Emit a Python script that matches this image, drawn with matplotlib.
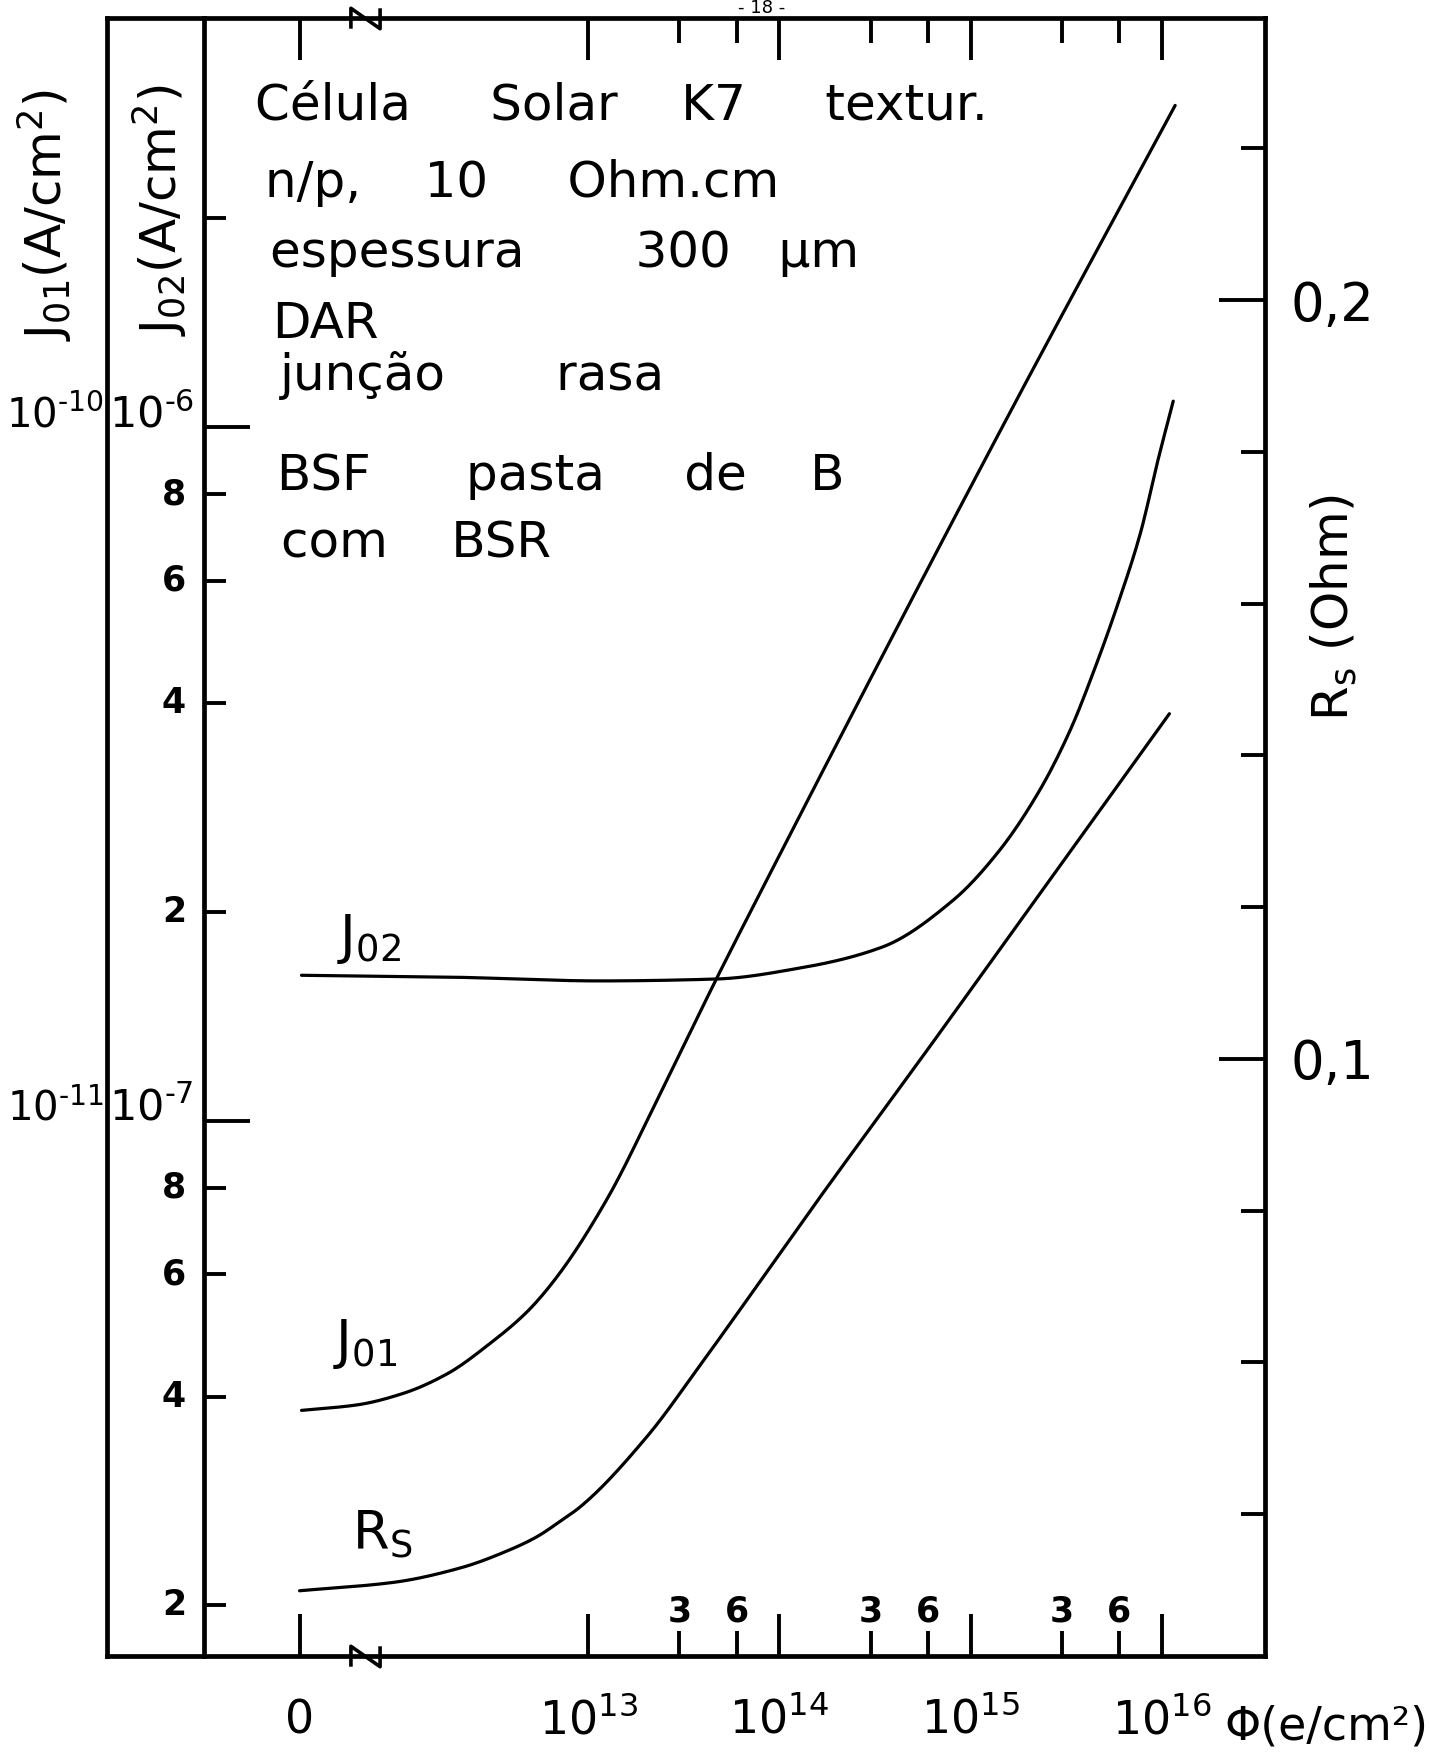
import numpy as np
import matplotlib
matplotlib.use("Agg")
import matplotlib.pyplot as plt
from matplotlib import transforms
from matplotlib.path import Path
from matplotlib.ticker import NullLocator, NullFormatter

# ------------------------------------------------------------------ data
# Horizontal coordinate: fluence in decades, log10(phi).  phi = 0 sits
# in front of the axis break at PHI_ZERO_POS.
PHI_ZERO_POS = 11.49
BREAK_POS = 11.83
phi_decades = [13, 14, 15, 16]
minor_decades = [13, 14, 15]
phi_minor_mult = [3, 6]

# J01 (A/cm^2)
j01_phi = [11.50, 11.79, 12.03, 12.26, 12.49, 12.68, 12.84, 13.10, 13.36,
           13.67, 13.88, 15.19, 16.07]
j01_val = [3.82e-12, 3.89e-12, 4.04e-12, 4.31e-12, 4.78e-12, 5.30e-12,
           5.97e-12, 7.72e-12, 1.07e-11, 1.60e-11, 2.08e-11, 1.03e-10,
           2.91e-10]

# J02 (A/cm^2)
j02_phi = [11.50, 12.28, 13.06, 13.67, 14.11, 14.54, 14.91, 15.15, 15.36,
           15.52, 15.65, 15.78, 15.89, 15.98, 16.06]
j02_val = [1.62e-7, 1.61e-7, 1.59e-7, 1.60e-7, 1.66e-7, 1.78e-7, 2.08e-7,
           2.45e-7, 2.99e-7, 3.65e-7, 4.49e-7, 5.66e-7, 7.06e-7, 8.96e-7,
           1.09e-6]

# Rs (Ohm)
rs_phi = [11.49, 11.98, 12.33, 12.59, 12.73, 12.85, 12.96, 13.31, 13.59,
          14.21, 14.80, 15.34, 16.04]
rs_val = [0.0299, 0.0310, 0.0329, 0.0353, 0.0370, 0.0390, 0.0410, 0.0503,
          0.0598, 0.0817, 0.1021, 0.1210, 0.1455]

# axis scales
PHI_LIM = (10.99, 16.54)
J02_LIM = (1.69e-8, 3.89e-6)
J01_FACTOR = 1e-4                      # J01 scale = J02 scale * 1e-4
RS_LIM = (0.0213, 0.2372)

j02_major = [1e-7, 1e-6]
j02_minor = [2e-8, 4e-8, 6e-8, 8e-8, 2e-7, 4e-7, 6e-7, 8e-7, 2e-6]
j02_minor_labeled = [2e-8, 4e-8, 6e-8, 8e-8, 2e-7, 4e-7, 6e-7, 8e-7]
j01_major = [1e-11, 1e-10]
rs_major = [0.1, 0.2]
rs_major_labels = ["0,1", "0,2"]
rs_minor = [0.04, 0.06, 0.08, 0.12, 0.14, 0.16, 0.18, 0.22]

info_lines = [
    "Célula     Solar    K7     textur.",
    "n/p,    10     Ohm.cm",
    "espessura       300   µm",
    "DAR",
    "junção       rasa",
    "BSF      pasta     de    B",
    "com    BSR",
]


def smooth_curve(x, y, log=False, n=400):
    """Monotone cubic (Fritsch-Carlson) curve through the given points,
    so the hand-drawn look of the curves is kept."""
    x = np.asarray(x, float)
    y = np.asarray(y, float)
    if log:
        y = np.log10(y)
    h = np.diff(x)
    d = np.diff(y) / h
    m = np.zeros_like(y)
    m[0], m[-1] = d[0], d[-1]
    for k in range(1, len(x) - 1):
        if d[k - 1] * d[k] <= 0:
            m[k] = 0.0
        else:
            w1 = 2 * h[k] + h[k - 1]
            w2 = h[k] + 2 * h[k - 1]
            m[k] = (w1 + w2) / (w1 / d[k - 1] + w2 / d[k])
    xs = np.linspace(x[0], x[-1], n)
    idx = np.clip(np.searchsorted(x, xs) - 1, 0, len(x) - 2)
    t = (xs - x[idx]) / h[idx]
    h00 = 2 * t**3 - 3 * t**2 + 1
    h10 = t**3 - 2 * t**2 + t
    h01 = -2 * t**3 + 3 * t**2
    h11 = t**3 - t**2
    ys = (h00 * y[idx] + h10 * h[idx] * m[idx] + h01 * y[idx + 1]
          + h11 * h[idx] * m[idx + 1])
    return xs, (10 ** ys if log else ys)


# ---------------------------------------------------------------- layout
W, H, DPI = 1430, 1764, 100
plt.rcParams["font.family"] = ["DejaVu Sans"]
plt.rcParams["mathtext.fontset"] = "dejavusans"

fig = plt.figure(figsize=(W / DPI, H / DPI), dpi=DPI)
fig.patch.set_facecolor("white")


def fx(px):
    return px / W


def fy(py):
    return 1 - py / H


L, R, T, B = 204, 1265, 18, 1656
OUTER = 107
SPINE_W, TICK_W, CURVE_W = 3.4, 2.8, 2.3
INK = "black"

ax_o = fig.add_axes([fx(OUTER), fy(B), fx(L) - fx(OUTER), fy(T) - fy(B)])
ax = fig.add_axes([fx(L), fy(B), fx(R) - fx(L), fy(T) - fy(B)])

# outer strip carrying the J01 scale
ax_o.set_yscale("log")
ax_o.set_ylim(J02_LIM[0] * J01_FACTOR, J02_LIM[1] * J01_FACTOR)
ax_o.set_xticks([])
ax_o.yaxis.set_major_locator(NullLocator())
ax_o.yaxis.set_minor_locator(NullLocator())
ax_o.spines["right"].set_visible(False)
for s in ("left", "top", "bottom"):
    ax_o.spines[s].set_linewidth(SPINE_W)

# main axes: fluence vs J02
ax.set_xlim(PHI_LIM)
ax.set_yscale("log")
ax.set_ylim(J02_LIM)
ax.set_xticks([PHI_ZERO_POS] + phi_decades)
ax.set_xticks([d + np.log10(m) for d in minor_decades for m in phi_minor_mult],
              minor=True)
ax.set_yticks(j02_major)
ax.set_yticks(j02_minor, minor=True)
ax.yaxis.set_minor_formatter(NullFormatter())
ax.tick_params(which="both", direction="in", width=TICK_W, color=INK,
               top=True, bottom=True, left=True, right=False,
               labelbottom=False, labelleft=False)
ax.tick_params(axis="x", which="major", length=30)
ax.tick_params(axis="x", which="minor", length=18)
ax.tick_params(axis="y", which="major", length=33)
ax.tick_params(axis="y", which="minor", length=16)
for s in ax.spines.values():
    s.set_linewidth(SPINE_W)
ax.spines["right"].set_visible(False)

# Rs on the right
ax_rs = ax.twinx()
ax_rs.set_ylim(RS_LIM)
ax_rs.set_yticks(rs_major)
ax_rs.set_yticklabels(rs_major_labels)
ax_rs.set_yticks(rs_minor, minor=True)
ax_rs.tick_params(axis="y", which="both", direction="in", width=TICK_W,
                  labelsize=38, pad=18)
ax_rs.tick_params(axis="y", which="major", length=33)
ax_rs.tick_params(axis="y", which="minor", length=17)
for s in ("left", "top", "bottom"):
    ax_rs.spines[s].set_visible(False)
ax_rs.spines["right"].set_linewidth(SPINE_W)

# J01 shares the plotting area, with its own (hidden) scale
ax_j1 = ax.twinx()
ax_j1.set_yscale("log")
ax_j1.set_ylim(J02_LIM[0] * J01_FACTOR, J02_LIM[1] * J01_FACTOR)
ax_j1.axis("off")

# curves
line_kw = dict(color=INK, lw=CURVE_W, solid_capstyle="round",
               solid_joinstyle="round")
ax_j1.plot(*smooth_curve(j01_phi, j01_val, log=True), **line_kw)
ax.plot(*smooth_curve(j02_phi, j02_val, log=True), **line_kw)
ax_rs.plot(*smooth_curve(rs_phi, rs_val), **line_kw)

# axis-break marks on the bottom and top frame lines
brk = Path([(-1, -0.7), (-1, 0.7), (1, -0.7), (1, 0.7)],
           [Path.MOVETO, Path.LINETO, Path.LINETO, Path.LINETO])
tr_x = transforms.blended_transform_factory(ax.transData, ax.transAxes)
for yb in (0, 1):
    ax.plot([BREAK_POS], [yb], transform=tr_x, marker=brk, ms=21,
            mew=2.6, mfc="none", mec=INK, ls="none", clip_on=False,
            zorder=5)

# fluence labels
span = B - T
base_y = -(1733 - B) / span
ax.text(PHI_ZERO_POS, base_y, "0", transform=tr_x, ha="center",
        va="baseline", fontsize=33)
for d in phi_decades:
    ax.text(d, base_y, r"$10^{%d}$" % d, transform=tr_x, ha="center",
            va="baseline", fontsize=33)
minor_y = (B - 1622) / span
for d in minor_decades:
    for m in phi_minor_mult:
        ax.text(d + np.log10(m), minor_y, str(m), transform=tr_x,
                ha="center", va="baseline", fontsize=25, fontweight="bold")
fig.text(fx(1428), fy(1740), "Φ(e/cm²)", ha="right", va="baseline",
         fontsize=33)


def pow_label(v):
    e = int(round(np.log10(v)))
    return r"$10^{\text{-}%d}$" % abs(e)


# J02 scale labels (between the two left lines)
tr_y = transforms.blended_transform_factory(ax.transAxes, ax.transData)
for v in j02_major:
    ax.text((194 - L) / (R - L), v, pow_label(v), transform=tr_y,
            ha="right", va="baseline", fontsize=31)
for v in j02_minor_labeled:
    mant = int(round(v / 10 ** np.floor(np.log10(v))))
    ax.text((174 - L) / (R - L), v, str(mant), transform=tr_y,
            ha="center", va="center", fontsize=25, fontweight="bold")

# J01 scale labels (left of the outer line)
tr_o = transforms.blended_transform_factory(ax_o.transAxes, ax_o.transData)
for v in j01_major:
    ax_o.text((104 - OUTER) / (L - OUTER), v, pow_label(v), transform=tr_o,
              ha="right", va="baseline", fontsize=29)

# axis titles
fig.text(fx(45), fy(215), r"$\mathregular{J_{01}(A/cm^2)}$", rotation=90,
         ha="center", va="center", fontsize=36)
fig.text(fx(160), fy(210), r"$\mathregular{J_{02}(A/cm^2)}$", rotation=90,
         ha="center", va="center", fontsize=36)
fig.text(fx(1334), fy(607), r"$\mathregular{R_s}$ (Ohm)", rotation=90,
         ha="center", va="center", fontsize=36)

# curve names
fig.text(fx(337), fy(953), r"$\mathregular{J_{02}}$", ha="left",
         va="baseline", fontsize=38)
fig.text(fx(333), fy(1358), r"$\mathregular{J_{01}}$", ha="left",
         va="baseline", fontsize=38)
fig.text(fx(352), fy(1550), r"$\mathregular{R_S}$", ha="left",
         va="baseline", fontsize=38)

# sample description
info_pos = [(255, 120), (265, 197), (270, 267), (272, 338), (280, 390),
            (277, 490), (281, 558)]
for txt, (px, py) in zip(info_lines, info_pos):
    fig.text(fx(px), fy(py), txt, ha="left", va="baseline", fontsize=36)

# page number above the frame
fig.text(fx(762), fy(13), "- 18 -", ha="center", va="baseline", fontsize=13)

fig.savefig("out.png", dpi=DPI, facecolor="white")
